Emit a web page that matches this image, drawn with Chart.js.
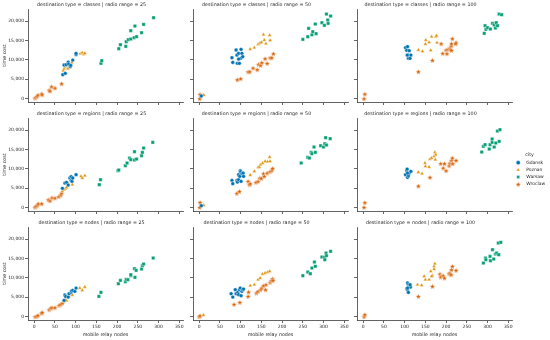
<!DOCTYPE html>
<html>
<head>
<meta charset="utf-8">
<script src="https://cdn.jsdelivr.net/npm/chart.js@4/dist/chart.umd.min.js"></script>
<style>
  html, body { margin: 0; padding: 0; background: #fff; }
  #wrap { position: relative; width: 550px; height: 340px; overflow: hidden; }
  #wrap canvas { position: absolute; }
</style>
</head>
<body>
<div id="wrap"></div>
<script>
(function(){
  'use strict';

  const cities = ['Gdansk', 'Poznan', 'Warsaw', 'Wroclaw'];
  const destTypes = ['classes', 'regions', 'nodes'];
  const radioRanges = [25, 50, 100];
  const xTicks = [0, 50, 100, 150, 200, 250, 300, 350];
  const yTicks = [0, 5000, 10000, 15000, 20000];

  // [mobile relay nodes, time cost]
  // destination type = classes
  const classes25Gdansk = [[69,6180],[75,6520],[72,8670],[77,8750],[82,9440],[83,8920],[87,8240],[88,8580],[93,9950],[101,11330],[101,11670]];
  const classes25Poznan = [[70,7210],[72,7720],[75,8240],[81,7720],[86,8490],[91,9270],[111,11580],[116,11840],[119,11410],[122,11670]];
  const classes25Warsaw = [[161,9100],[163,9780],[204,12870],[208,13900],[221,13470],[222,14670],[227,15190],[233,15360],[233,17500],[241,15700],[243,18700],[247,15960],[259,16990],[264,19130],[288,20850]];
  const classes25Wroclaw = [[2,170],[6,520],[9,940],[18,1290],[19,1030],[36,2230],[38,1970],[42,3090],[50,2750],[66,3860]];

  const classes50Gdansk = [[5,690],[79,10550],[81,9350],[89,12530],[91,11240],[92,9100],[95,11670],[97,9100],[100,10380],[101,12700],[103,11670],[105,10810],[95,10210]];
  const classes50Poznan = [[11,940],[123,12780],[133,13130],[142,13990],[146,14240],[150,14500],[155,16470],[157,15100],[161,14160],[170,16300],[171,15020]];
  const classes50Warsaw = [[250,15270],[262,15960],[264,18100],[272,16470],[274,17250],[280,19220],[282,16730],[296,19560],[302,18880],[307,21790],[310,20250],[311,19390],[317,21280]];
  const classes50Wroclaw = [[1,0],[2,1120],[92,4890],[100,5150],[118,6950],[122,6950],[130,7890],[140,7470],[143,8840],[148,8580],[151,9270],[159,10300],[164,9100],[171,10550],[175,10550],[179,11580]];

  const classes100Gdansk = [[102,13130],[105,12440],[107,13390],[109,11240],[109,10380],[111,12360],[113,10380],[115,11240],[106,11240]];
  const classes100Poznan = [[133,12530],[143,12180],[150,14070],[151,15100],[159,14500],[163,12440],[165,15960],[175,15960],[177,16220],[178,14410]];
  const classes100Warsaw = [[292,16820],[294,18790],[296,17850],[300,18280],[307,17930],[312,19390],[316,18960],[319,18190],[321,19560],[324,18790],[328,21790],[334,21620]];
  const classes100Wroclaw = [[2,0],[4,1200],[133,6950],[167,9870],[188,14160],[192,11670],[200,12530],[202,11580],[204,12700],[208,12960],[210,12700],[212,13560],[213,14160],[215,15440],[213,12440],[224,14500],[223,14160]];

  // destination type = regions
  const regions25Gdansk = [[68,4980],[74,6350],[78,6520],[82,5830],[86,7640],[89,7040],[89,7980],[91,6780],[93,7640],[101,8490]];
  const regions25Poznan = [[68,4200],[72,4630],[76,4890],[78,5230],[82,6180],[92,5920],[113,8070],[116,7640],[122,8240]];
  const regions25Warsaw = [[157,5920],[160,7210],[202,9520],[204,9700],[220,10810],[224,11500],[230,12780],[233,12360],[242,12270],[242,14410],[247,12530],[259,13390],[261,14240],[264,15360],[286,16820]];
  const regions25Wroclaw = [[2,90],[4,340],[7,600],[10,1030],[18,1030],[34,2060],[38,1800],[43,2570],[50,2490],[59,2830],[64,3260],[66,3780]];

  const regions50Gdansk = [[5,520],[79,7040],[81,6180],[91,7040],[92,6610],[95,8490],[95,7210],[98,8070],[99,9520],[100,9270],[101,6780],[103,8750],[106,8920],[107,8070]];
  const regions50Poznan = [[11,600],[123,8410],[133,9350],[142,10380],[145,10470],[148,11070],[153,11500],[159,11930],[165,11840],[170,13040],[171,11930]];
  const regions50Warsaw = [[246,11500],[262,12960],[266,12780],[270,14240],[272,13900],[277,15620],[280,14240],[293,15960],[300,15620],[303,16470],[305,18020],[307,16130],[316,17760]];
  const regions50Wroclaw = [[1,90],[2,1370],[91,3690],[97,4200],[118,6780],[121,5920],[123,6180],[137,6520],[142,6780],[146,7640],[150,7550],[155,8750],[157,8070],[164,8920],[171,9270],[175,9610],[177,10120]];

  const regions100Gdansk = [[102,8490],[105,9520],[106,9950],[107,7810],[109,8240],[111,8920],[115,9350],[107,8920]];
  const regions100Poznan = [[133,9100],[142,8750],[149,11500],[150,10640],[159,10470],[161,12530],[165,12780],[171,13210],[173,14240],[175,13640],[174,12360]];
  const regions100Warsaw = [[286,14330],[290,15790],[294,16220],[304,15100],[306,16220],[311,16820],[311,17680],[316,15620],[320,16650],[328,17070],[324,19730],[330,20080]];
  const regions100Wroclaw = [[2,90],[4,1290],[133,5580],[161,7810],[187,11330],[193,10210],[196,11330],[200,9520],[207,10810],[209,11500],[213,12180],[215,12780],[216,11330],[224,12180]];

  // destination type = nodes
  const nodes25Gdansk = [[72,4200],[74,5580],[76,5230],[82,5060],[84,5920],[89,6260],[90,6610],[93,6780],[98,6520],[101,7380]];
  const nodes25Poznan = [[72,3950],[76,4380],[78,4120],[84,5230],[92,5580],[110,7380],[116,6780],[122,7640]];
  const nodes25Warsaw = [[156,5230],[161,6260],[203,8490],[208,9350],[220,9010],[222,9610],[226,9520],[233,10550],[233,10810],[242,12360],[243,10120],[246,11930],[259,12270],[261,13130],[264,13560],[287,15100]];
  const nodes25Wroclaw = [[2,0],[6,90],[9,340],[18,860],[19,1120],[36,1800],[40,2230],[43,2320],[50,2320],[60,2920],[64,3180],[68,3520]];

  const nodes50Gdansk = [[77,5920],[81,5060],[87,6950],[89,5920],[93,6260],[95,5660],[97,6950],[99,7380],[101,5410],[103,6520],[105,6950],[107,7120]];
  const nodes50Poznan = [[10,430],[123,7980],[133,8240],[142,9520],[147,9950],[153,10980],[159,11240],[165,11410],[170,11670]];
  const nodes50Warsaw = [[250,10550],[262,11500],[268,11070],[272,12530],[278,14070],[280,12960],[296,15360],[302,15270],[303,14670],[306,16390],[307,15700],[317,16820]];
  const nodes50Wroclaw = [[0,0],[2,260],[84,3180],[98,3690],[118,5230],[119,6350],[138,6090],[142,6520],[148,6950],[151,7380],[155,7980],[160,6950],[161,8240],[171,8840],[174,9350],[177,9780],[178,9350]];

  const nodes100Gdansk = [[107,8670],[109,8240],[105,7210],[107,6950],[111,7810],[114,7640],[109,6260],[107,7380],[113,8240]];
  const nodes100Poznan = [[131,8240],[141,8070],[147,10380],[150,9520],[159,9520],[163,11670],[167,10550],[171,12960],[173,13640],[171,12270],[165,10380]];
  const nodes100Warsaw = [[290,13810],[295,15100],[296,14670],[306,15530],[307,14410],[312,17250],[315,14840],[319,16130],[322,16390],[327,15960],[326,18960],[332,19130]];
  const nodes100Wroclaw = [[2,0],[4,520],[133,5230],[167,7810],[185,10980],[187,10210],[193,10550],[196,9950],[207,11070],[209,11240],[213,12100],[215,12960],[212,10810],[224,11930]];

  // rows = destination type, cols = radio range
  const grid = [
    [[classes25Gdansk, classes25Poznan, classes25Warsaw, classes25Wroclaw],
     [classes50Gdansk, classes50Poznan, classes50Warsaw, classes50Wroclaw],
     [classes100Gdansk, classes100Poznan, classes100Warsaw, classes100Wroclaw]],
    [[regions25Gdansk, regions25Poznan, regions25Warsaw, regions25Wroclaw],
     [regions50Gdansk, regions50Poznan, regions50Warsaw, regions50Wroclaw],
     [regions100Gdansk, regions100Poznan, regions100Warsaw, regions100Wroclaw]],
    [[nodes25Gdansk, nodes25Poznan, nodes25Warsaw, nodes25Wroclaw],
     [nodes50Gdansk, nodes50Poznan, nodes50Warsaw, nodes50Wroclaw],
     [nodes100Gdansk, nodes100Poznan, nodes100Warsaw, nodes100Wroclaw]]
  ];

  const colors = ['#0173b2', '#de8f05', '#029e73', '#d55e00'];
  const font = 'DejaVu Sans';
  const textColor = '#262626';
  const axisColor = '#3c3c3c';

  // layout (px)
  const colLeft = [28, 193, 357];
  const rowTop = [9, 118, 227];
  const plotW = 155, plotH = 93;
  const yAxisW = 28, titleH = 9, xAxisH = 20;
  const xMin = -15, xMax = 359;
  const yMin = -850, yMax = 23090;

  function starMarker(color) {
    let c = document.createElement('canvas');
    c.width = 7; c.height = 7;
    let g = c.getContext('2d');
    g.beginPath();
    for (let i = 0; i < 10; i++) {
      let a = -Math.PI / 2 + i * Math.PI / 5;
      let rr = i % 2 ? 1.3 : 2.9;
      g.lineTo(3.5 + rr * Math.cos(a), 3.8 + rr * Math.sin(a));
    }
    g.closePath();
    g.fillStyle = color; g.fill();
    g.strokeStyle = '#fff'; g.lineWidth = 0.4; g.stroke();
    return c;
  }

  const markers = ['circle', 'triangle', 'rect', starMarker(colors[3])];
  const radii = [1.9, 2.3, 2.4, 2];

  let wrap = document.getElementById('wrap');

  function addCanvas(left, top, w, h) {
    let cv = document.createElement('canvas');
    cv.width = w; cv.height = h;
    cv.style.left = left + 'px'; cv.style.top = top + 'px';
    cv.style.width = w + 'px'; cv.style.height = h + 'px';
    wrap.appendChild(cv);
    return cv;
  }

  function datasetsFor(points) {
    return cities.map((name, k) => ({
      label: name,
      data: points ? points[k].map(p => ({x: p[0], y: p[1]})) : [],
      pointStyle: markers[k],
      backgroundColor: colors[k],
      borderColor: '#ffffff',
      borderWidth: 0.4,
      pointRadius: radii[k],
      pointHoverRadius: radii[k]
    }));
  }

  function makePanel(r, c) {
    let w = yAxisW + plotW + yAxisW;
    let h = titleH + plotH + xAxisH;
    let cv = addCanvas(colLeft[c] - yAxisW, rowTop[r] - titleH, w, h);
    let showX = r === 2, showY = c === 0;

    new Chart(cv, {
      type: 'scatter',
      data: { datasets: datasetsFor(grid[r][c]) },
      options: {
        responsive: false,
        animation: false,
        events: [],
        layout: { padding: { left: 0, right: yAxisW, top: 0, bottom: 0 } },
        plugins: {
          legend: { display: false },
          tooltip: { enabled: false },
          title: {
            display: true,
            text: 'destination type = ' + destTypes[r] + ' | radio range = ' + radioRanges[c],
            color: textColor,
            font: { family: font, size: 4.8, weight: 'normal' },
            padding: { top: 1.8, bottom: titleH - 1.8 - 4.8 * 1.2 }
          }
        },
        scales: {
          x: {
            type: 'linear',
            min: xMin, max: xMax,
            afterBuildTicks: s => { s.ticks = xTicks.map(v => ({value: v})); },
            afterFit: s => { s.height = xAxisH; },
            border: { display: true, color: axisColor, width: 0.8 },
            grid: { drawOnChartArea: false, drawTicks: true, tickLength: 3, color: axisColor, lineWidth: 0.8 },
            ticks: { color: showX ? textColor : 'rgba(0,0,0,0)', font: { family: font, size: 4.5 }, padding: 1.5, maxRotation: 0, autoSkip: false },
            title: { display: showX, text: 'mobile relay nodes', color: textColor, font: { family: font, size: 4.8 }, padding: { top: 0, bottom: 2 } }
          },
          y: {
            type: 'linear',
            min: yMin, max: yMax,
            afterBuildTicks: s => { s.ticks = yTicks.map(v => ({value: v})); },
            afterFit: s => { s.width = yAxisW; },
            border: { display: true, color: axisColor, width: 0.8 },
            grid: { drawOnChartArea: false, drawTicks: true, tickLength: 3, color: axisColor, lineWidth: 0.8 },
            ticks: { color: showY ? textColor : 'rgba(0,0,0,0)', font: { family: font, size: 4.5 }, padding: 1, autoSkip: false },
            title: { display: showY, text: 'time cost', color: textColor, font: { family: font, size: 4.8 }, padding: { top: 2, bottom: 0 } }
          }
        }
      }
    });
  }

  for (let r = 0; r < 3; r++) {
    for (let c = 0; c < 3; c++) makePanel(r, c);
  }

  // legend on its own canvas, right of the grid (tall so the top box may use 50px)
  let lg = addCanvas(514, 150, 36, 110);
  new Chart(lg, {
    type: 'scatter',
    data: { datasets: datasetsFor(null) },
    options: {
      responsive: false,
      animation: false,
      events: [],
      layout: { padding: 0 },
      scales: { x: { display: false }, y: { display: false } },
      plugins: {
        tooltip: { enabled: false },
        legend: {
          display: true,
          position: 'top',
          align: 'start',
          title: { display: true, text: 'city', color: textColor, font: { family: font, size: 4.8 }, padding: { top: 2, bottom: 0 } },
          labels: {
            usePointStyle: true,
            boxWidth: 3, boxHeight: 3,
            padding: 2.7,
            color: textColor,
            font: { family: font, size: 4.5 },
            generateLabels: chart => Chart.defaults.plugins.legend.labels.generateLabels(chart)
              .map(item => Object.assign(item, { text: '   ' + item.text }))
          }
        }
      }
    }
  });
})();
</script>
</body>
</html>
